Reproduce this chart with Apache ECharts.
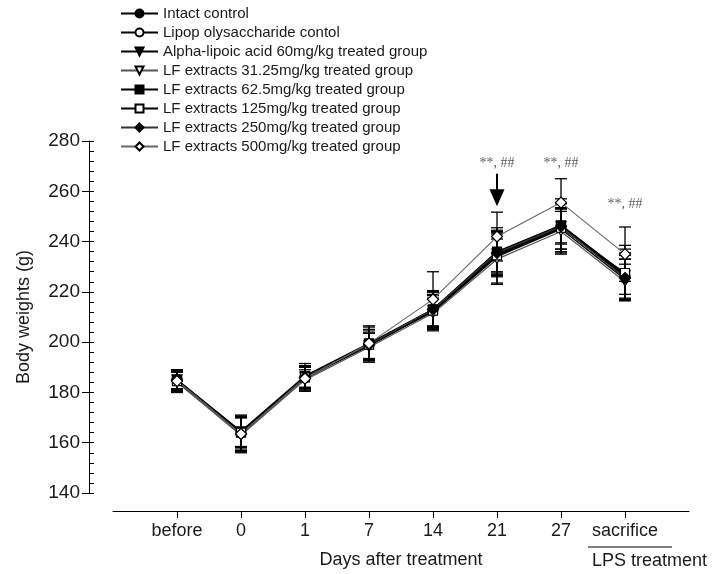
<!DOCTYPE html>
<html>
<head>
<meta charset="utf-8">
<script src="https://cdn.jsdelivr.net/npm/echarts@6/dist/echarts.min.js"></script>
<style>
  html, body { margin: 0; padding: 0; background: #fff; }
  #chart { width: 721px; height: 574px; }
</style>
</head>
<body>
<div id="chart"></div>
<script>
// time points ('' pads the axis on both ends)
const xCats = ["", "before", "0", "1", "7", "14", "21", "27", "sacrifice", ""];
const yTicks = [140, 160, 180, 200, 220, 240, 260, 280];

const groupNames = [
  "Intact control",
  "Lipop olysaccharide contol",
  "Alpha-lipoic acid 60mg/kg treated group",
  "LF extracts 31.25mg/kg treated group",
  "LF extracts 62.5mg/kg treated group",
  "LF extracts 125mg/kg treated group",
  "LF extracts 250mg/kg treated group",
  "LF extracts 500mg/kg treated group"
];

// mean body weights (g), before .. sacrifice
const intact  = [185, 164, 186, 199, 213, 235.5, 246, 226];
const lps     = [184.5, 163.5, 185.5, 199, 212, 234, 245, 225];
const ala     = [185, 164, 186, 198.5, 212.5, 235, 246, 226.5];
const lf3125  = [184, 163, 185, 198, 211.5, 233, 244, 224];
const lf625   = [185, 164.5, 186.5, 199.5, 213, 236, 246.5, 227];
const lf125   = [184.5, 164, 186, 199, 212.5, 234.5, 245.5, 227.5];
const lf250   = [185, 163.5, 186, 199, 213, 235.5, 246, 225.5];
const lf500   = [184.5, 163.5, 185.5, 199.5, 217, 242, 255.5, 235];

// standard deviations
const sdIntact = [4, 6, 4, 6, 7, 8, 7, 7];
const sdLps    = [4, 7, 5, 6, 7, 7, 8, 8];
const sdAla    = [3.5, 6, 4.5, 5, 6, 9, 9, 9];
const sd3125   = [4, 7, 4, 6, 6, 10, 8, 7];
const sd625    = [4, 6, 5, 7, 7, 8, 7, 10];
const sd125    = [4.5, 7, 4, 6, 8, 11, 10, 11];
const sd250    = [4, 6.5, 4.5, 6, 7, 9, 11, 9];
const sd500    = [4, 7, 5, 6.5, 11, 9.7, 9.5, 10.8];

// significance marks and the arrow at day 21
const marks = [["21", 271.3], ["27", 271.3], ["sacrifice", 254.7]];
const arrow = [["21", 267, 254]];

const means = [intact, lps, ala, lf3125, lf625, lf125, lf250, lf500];
const sds = [sdIntact, sdLps, sdAla, sd3125, sd625, sd125, sd250, sd500];

const styles = [
  { symbol: "circle", size: 10, fill: "#000", line: "#000", w: 1.6 },
  { symbol: "circle", size: 8, fill: "#fff", line: "#000", w: 1.4 },
  { symbol: "triangle", size: 10, fill: "#000", line: "#000", w: 1.6, rot: 180 },
  { symbol: "triangle", size: 9, fill: "#fff", line: "#555", w: 1.2, rot: 180 },
  { symbol: "rect", size: 9, fill: "#000", line: "#000", w: 1.6 },
  { symbol: "rect", size: 9, fill: "#fff", line: "#000", w: 1.4 },
  { symbol: "diamond", size: 11, fill: "#000", line: "#333", w: 1.4 },
  { symbol: "diamond", size: 11, fill: "#fff", line: "#666", w: 1.1 }
];

const idx = name => xCats.indexOf(name);
const font = "Liberation Sans, Arial, sans-serif";

const lineSeries = groupNames.map((name, g) => ({
  name: name,
  type: "line",
  z: 3,
  symbol: styles[g].symbol,
  symbolSize: styles[g].size,
  symbolRotate: styles[g].rot || 0,
  data: means[g].map((v, i) => [i + 1, v]),
  lineStyle: { color: styles[g].line, width: styles[g].w },
  itemStyle: { color: styles[g].fill, borderColor: "#000", borderWidth: 1.2 },
  emphasis: { disabled: true },
  animation: false
}));

const errData = [];
means.forEach((arr, g) => {
  arr.forEach((v, i) => errData.push([i + 1, v, sds[g][i]]));
});

const option = {
  backgroundColor: "#fff",
  animation: false,
  grid: { left: 113, right: 32, top: 141, bottom: 79 },
  legend: {
    data: groupNames,
    orient: "vertical",
    left: 120,
    top: 6,
    padding: 0,
    itemWidth: 37,
    itemHeight: 10,
    itemGap: 4,
    selectedMode: false,
    textStyle: { fontFamily: font, fontSize: 15, lineHeight: 15, color: "#1a1a1a" }
  },
  xAxis: {
    type: "category",
    data: xCats,
    boundaryGap: false,
    offset: 18,
    name: "Days after treatment",
    nameLocation: "middle",
    nameGap: 40,
    nameTextStyle: { fontFamily: font, fontSize: 18, color: "#1a1a1a" },
    axisLine: { lineStyle: { color: "#000", width: 1 } },
    axisTick: {
      length: 7,
      interval: (i, v) => v !== "",
      lineStyle: { color: "#000" }
    },
    axisLabel: { interval: 0, margin: 11, fontFamily: font, fontSize: 18, color: "#1a1a1a" },
    splitLine: { show: false }
  },
  yAxis: [
    {
      type: "value",
      position: "left",
      min: yTicks[0],
      max: yTicks[yTicks.length - 1],
      interval: 20,
      offset: 24,
      name: "Body weights (g)",
      nameLocation: "middle",
      nameGap: 56,
      nameTextStyle: { fontFamily: font, fontSize: 18, color: "#1a1a1a" },
      axisLine: { show: true, lineStyle: { color: "#000", width: 1 } },
      axisTick: { show: true, length: 7, lineStyle: { color: "#000" } },
      axisLabel: { margin: 9, fontFamily: font, fontSize: 19, color: "#1a1a1a" },
      splitLine: { show: false }
    },
    {
      // minor ticks pointing inward
      type: "value",
      position: "left",
      min: 140,
      max: 280,
      interval: 4,
      offset: 24,
      axisLine: { show: false },
      axisTick: { show: true, inside: true, length: 5, lineStyle: { color: "#000" } },
      axisLabel: { show: false },
      splitLine: { show: false }
    }
  ],
  series: [
    {
      type: "custom",
      name: "sd",
      z: 2,
      data: errData,
      encode: { x: 0, y: 1 },
      renderItem: (params, api) => {
        const x = api.value(0), m = api.value(1), s = api.value(2);
        const top = api.coord([x, m + s]);
        const bot = api.coord([x, m - s]);
        const hw = 6;
        const st = { stroke: "#000", lineWidth: 1.3 };
        return {
          type: "group",
          children: [
            { type: "line", shape: { x1: top[0], y1: top[1], x2: bot[0], y2: bot[1] }, style: st },
            { type: "line", shape: { x1: top[0] - hw, y1: top[1], x2: top[0] + hw, y2: top[1] }, style: st },
            { type: "line", shape: { x1: bot[0] - hw, y1: bot[1], x2: bot[0] + hw, y2: bot[1] }, style: st }
          ]
        };
      },
      silent: true
    },
    ...lineSeries,
    {
      type: "scatter",
      name: "marks",
      symbolSize: 0,
      data: marks.map(d => [idx(d[0]), d[1]]),
      label: {
        show: true,
        position: "inside",
        formatter: "**, ##",
        fontFamily: "Liberation Serif, Times New Roman, serif",
        fontSize: 14,
        color: "#333"
      },
      silent: true
    },
    {
      type: "custom",
      name: "arrow",
      data: arrow.map(d => [idx(d[0]), d[1], d[2]]),
      encode: { x: 0, y: 1 },
      renderItem: (params, api) => {
        const x = api.value(0);
        const a = api.coord([x, api.value(1)]);
        const b = api.coord([x, api.value(2)]);
        const hh = 17, hw = 7.5;
        return {
          type: "group",
          children: [
            { type: "line", shape: { x1: a[0], y1: a[1], x2: b[0], y2: b[1] - hh + 1 }, style: { stroke: "#000", lineWidth: 2 } },
            { type: "polygon", shape: { points: [[b[0] - hw, b[1] - hh], [b[0] + hw, b[1] - hh], [b[0], b[1]]] }, style: { fill: "#000" } }
          ]
        };
      },
      silent: true
    }
  ],
  graphic: [
    {
      type: "line",
      shape: { x1: 588, y1: 547, x2: 672, y2: 547 },
      style: { stroke: "#000", lineWidth: 1 }
    },
    {
      type: "text",
      left: 592,
      top: 552,
      style: { text: "LPS treatment", font: "18px " + font, fill: "#1a1a1a" }
    }
  ]
};

const myChart = echarts.init(document.getElementById("chart"));
myChart.setOption(option);
</script>
</body>
</html>
